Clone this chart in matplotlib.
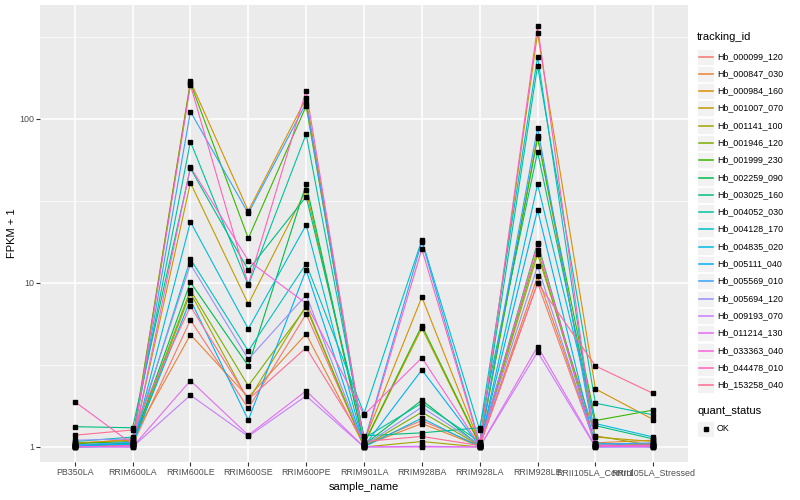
import numpy as np
import matplotlib
matplotlib.use("Agg")
import matplotlib.pyplot as plt
from matplotlib.patches import Rectangle
from matplotlib.lines import Line2D

plt.rcParams['font.family'] = ['Liberation Sans', 'DejaVu Sans']

# Daten
samples = ["PB350LA", "RRIM600LA", "RRIM600LE", "RRIM600SE", "RRIM600PE", "RRIM901LA",
           "RRIM928BA", "RRIM928LA", "RRIM928LE", "RRII105LA_Control", "RRII105LA_Stressed"]

tracking_ids = ["Hb_000099_120", "Hb_000847_030", "Hb_000984_160", "Hb_001007_070",
                "Hb_001141_100", "Hb_001946_120", "Hb_001999_230", "Hb_002259_090",
                "Hb_003025_160", "Hb_004052_030", "Hb_004128_170", "Hb_004835_020",
                "Hb_005111_040", "Hb_005569_010", "Hb_005694_120", "Hb_009193_070",
                "Hb_011214_130", "Hb_033363_040", "Hb_044478_010", "Hb_153258_040"]

# FPKM + 1, eine Zeile pro tracking_id, Spalten wie samples
fpkm = [
    [1.02, 1.03, 5.95, 1.72, 6.47, 1.03, 1.45, 1.02, 10.0, 1.04, 1.05],
    [1.04, 1.12, 4.84, 2.01, 4.89, 1.02, 1.39, 1.01, 11.0, 1.06, 1.10],
    [1.06, 1.10, 170.0, 27.5, 134.0, 1.08, 8.2, 1.05, 333.0, 2.26, 1.47],
    [1.01, 1.04, 40.8, 7.45, 36.9, 1.04, 5.3, 1.03, 78.7, 1.15, 1.08],
    [1.00, 1.02, 8.7, 1.92, 7.3, 1.00, 1.08, 1.00, 15.0, 1.17, 1.02],
    [1.03, 1.05, 9.06, 2.36, 7.1, 1.01, 1.63, 1.02, 16.0, 1.01, 1.04],
    [1.05, 1.08, 166.0, 18.7, 120.0, 1.05, 5.5, 1.04, 76.5, 1.45, 1.68],
    [1.02, 1.06, 10.1, 3.12, 40.0, 1.03, 1.93, 1.02, 17.6, 1.02, 1.03],
    [1.33, 1.31, 50.0, 12.0, 33.6, 1.17, 1.22, 1.31, 63.2, 1.35, 1.12],
    [1.08, 1.15, 72.7, 9.7, 81.0, 1.13, 1.85, 1.08, 211.0, 1.85, 1.57],
    [1.01, 1.05, 14.0, 3.85, 13.1, 1.60, 18.3, 1.27, 240.0, 1.06, 1.00],
    [1.00, 1.01, 23.6, 5.25, 22.6, 1.00, 1.50, 1.00, 40.0, 1.39, 1.15],
    [1.02, 1.04, 7.9, 1.46, 12.0, 1.01, 2.95, 1.01, 27.9, 1.00, 1.01],
    [1.03, 1.07, 111.0, 26.6, 125.0, 1.06, 17.9, 1.06, 88.5, 1.04, 1.06],
    [1.10, 1.12, 13.0, 3.43, 8.45, 1.02, 1.75, 1.03, 12.7, 1.01, 1.00],
    [1.00, 1.00, 2.07, 1.16, 2.05, 1.00, 1.01, 1.00, 3.8, 1.00, 1.00],
    [1.01, 1.00, 2.54, 1.18, 2.2, 1.00, 1.00, 1.00, 4.1, 1.01, 1.02],
    [1.00, 1.02, 51.0, 13.7, 7.5, 1.57, 3.5, 1.02, 17.2, 1.01, 1.01],
    [1.89, 1.04, 161.0, 9.8, 149.0, 1.05, 16.1, 1.04, 369.0, 1.02, 1.03],
    [1.18, 1.27, 7.2, 1.95, 4.03, 1.08, 1.16, 1.02, 10.0, 3.12, 2.12],
]

# ggplot hue palette (n = 20)
colors = ["#F8766D", "#EA8331", "#D89000", "#C09B00", "#A3A500", "#7CAE00", "#39B600",
          "#00BB4E", "#00BF7D", "#00C1A3", "#00BFC4", "#00BAE0", "#00B0F6", "#35A2FF",
          "#9590FF", "#C77CFF", "#E76BF3", "#FA62DB", "#FF62BC", "#FF6C91"]

W, H = 800, 500
fig = plt.figure(figsize=(W / 100, H / 100), dpi=100)

# Panel in Pixelkoordinaten
px_l, px_r, px_t, px_b = 40, 688, 5, 462
ax = fig.add_axes([px_l / W, 1 - px_b / H, (px_r - px_l) / W, (px_b - px_t) / H])
ax.set_facecolor("#EBEBEB")
for s in ax.spines.values():
    s.set_visible(False)

x = np.arange(len(samples))
for i, row in enumerate(fpkm):
    ax.plot(x, row, color=colors[i], lw=0.8, zorder=3)
for row in fpkm:
    ax.plot(x, row, ls="none", marker="s", ms=2.2, color="black", zorder=4)

ax.set_yscale("log")
# 1 bei y=447, 10 bei y=283 -> 164 px pro Dekade
dec = 164.0
ax.set_ylim(10 ** (-(px_b - 447) / dec), 10 ** ((447 - px_t) / dec))
ax.set_xlim(-0.6, len(samples) - 1 + 0.6)

ax.set_yticks([1, 10, 100])
ax.set_yticklabels(["1", "10", "100"])
ax.set_yticks([10 ** 0.5, 10 ** 1.5, 10 ** 2.5], minor=True)
ax.yaxis.set_minor_formatter(matplotlib.ticker.NullFormatter())
ax.set_xticks(x)
ax.set_xticklabels(samples)
ax.grid(True, which="major", color="white", lw=1.1, zorder=0)
ax.grid(True, which="minor", axis="y", color="white", lw=0.5, zorder=0)
ax.set_axisbelow(True)
ax.tick_params(axis="both", which="major", length=2.8, width=0.8, color="#333333",
               labelsize=6.4, labelcolor="#4D4D4D", pad=1.5)
ax.tick_params(axis="y", which="minor", length=0)

fig.text(364 / W, 1 - 487 / H, "sample_name", ha="center", va="center", fontsize=8)
fig.text(12 / W, 1 - 233 / H, "FPKM + 1", ha="center", va="center", rotation=90, fontsize=8)

# Legenden
lg = fig.add_axes([0, 0, 1, 1])
lg.set_xlim(0, W)
lg.set_ylim(H, 0)
lg.axis("off")

lg.text(697, 37, "tracking_id", ha="left", va="center", fontsize=8)
y0, step = 55.5, 17.3
for i, name in enumerate(tracking_ids):
    yc = round(y0 + i * step) + 0.5
    lg.add_patch(Rectangle((697, yc - 8), 17, 16, facecolor="#F2F2F2",
                           edgecolor="white", lw=0.6, zorder=1))
    lg.add_line(Line2D([698.5, 712.5], [yc, yc], color=colors[i], lw=1.1, zorder=2))
    lg.text(717, yc, name, ha="left", va="center", fontsize=6.4)

lg.text(697, 411, "quant_status", ha="left", va="center", fontsize=8)
lg.add_patch(Rectangle((697, 420.5), 17, 16, facecolor="#F2F2F2", edgecolor="white", lw=0.6))
lg.plot([705.5], [428.5], marker="s", ms=2.2, color="black")
lg.text(717, 428.5, "OK", ha="left", va="center", fontsize=6.4)

fig.savefig("out.png", dpi=100, facecolor="white")
